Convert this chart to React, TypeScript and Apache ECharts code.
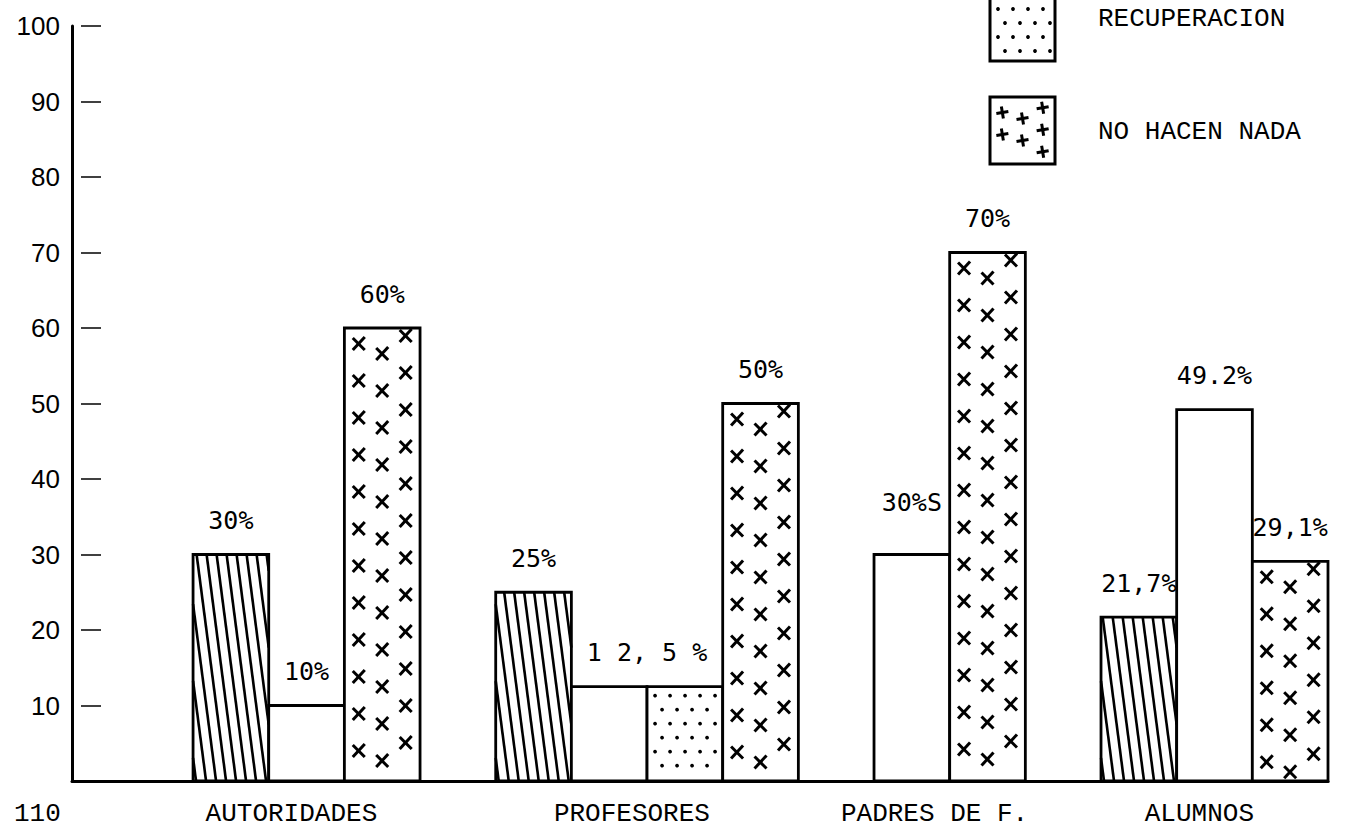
import React, { useEffect, useRef } from "react";
import * as echarts from "echarts";

// ---------- DATA ----------
const categories = ["AUTORIDADES", "PROFESORES", "PADRES DE F.", "ALUMNOS"];

// four series (patterns): hatched, blank, dotted (RECUPERACION), crosses (NO HACEN NADA)
const hatchedValues = [30, 25, null, 21.7];
const blankValues = [10, 12.5, 30, 49.2];
const recuperacionValues = [null, 12.5, null, null];
const noHacenNadaValues = [60, 50, 70, 29.1];

const hatchedLabels = ["30%", "25%", "", "21,7%"];
const blankLabels = ["10%", "1 2, 5 %", "30%S", "49.2%"];
const recuperacionLabels = ["", "", "", ""];
const noHacenNadaLabels = ["60%", "50%", "70%", "29,1%"];

const legendNames = ["RECUPERACION", "NO HACEN NADA"];
const pageNumber = "110";

const Y_MIN = 0;
const Y_MAX = 100;
const Y_STEP = 10;

// ---------- STYLE / LAYOUT ----------
type Pattern = "hatch" | "blank" | "dots" | "cross";
const seriesDefs: { values: (number | null)[]; labels: string[]; pattern: Pattern }[] = [
  { values: hatchedValues, labels: hatchedLabels, pattern: "hatch" },
  { values: blankValues, labels: blankLabels, pattern: "blank" },
  { values: recuperacionValues, labels: recuperacionLabels, pattern: "dots" },
  { values: noHacenNadaValues, labels: noHacenNadaLabels, pattern: "cross" },
];
// label nudges: key "seriesIndex-categoryIndex" -> [dx in bar widths, dy in px]
const labelNudge: Record<string, [number, number]> = {
  "1-1": [0.5, 0],
  "1-2": [0, -18],
};
const LEFT_GAP_SLOTS = 1.6;
const GROUP_GAP_SLOTS = 1;
const INK = "#000";
const SANS = "Liberation Sans";
const MONO = "Liberation Mono";
const LABEL_FONT = "DejaVu Sans Mono";

// build slot layout from data
const bars: number[][] = [];
const groupCenters: number[] = [];
let slotCursor = 0;
categories.forEach((_, ci) => {
  if (ci > 0) slotCursor += GROUP_GAP_SLOTS;
  const start = slotCursor;
  seriesDefs.forEach((s, si) => {
    const v = s.values[ci];
    if (v === null || v === undefined) return;
    bars.push([slotCursor, v, si, ci]);
    slotCursor += 1;
  });
  groupCenters.push((start + slotCursor) / 2);
});
const totalSlots = slotCursor;
const catLabelPos = groupCenters.map((c) => c - 0.2);

// ---------- pattern helpers ----------
function hatchLines(x: number, y: number, w: number, h: number) {
  const els: any[] = [];
  const s = 0.13;
  const step = 10;
  for (let c = x - s * h + 3; c < x + w; c += step) {
    const yMin = Math.max(y, y + (x - c) / s);
    const yMax = Math.min(y + h, y + (x + w - c) / s);
    if (yMax - yMin < 2) continue;
    els.push({
      type: "line",
      shape: { x1: c + s * (yMin - y), y1: yMin, x2: c + s * (yMax - y), y2: yMax },
      style: { stroke: INK, lineWidth: 2.6 },
    });
  }
  return els;
}

function dotMarks(x: number, y: number, w: number, h: number) {
  const els: any[] = [];
  let row = 0;
  for (let cy = y + 9; cy < y + h - 4; cy += 14, row++) {
    for (let cx = x + 8 + (row % 2) * 7; cx < x + w - 4; cx += 15) {
      els.push({ type: "circle", shape: { cx, cy, r: 1.9 }, style: { fill: INK } });
    }
  }
  return els;
}

function crossMarks(x: number, y: number, w: number, h: number, plus = false) {
  const els: any[] = [];
  const cols = [0.19, 0.5, 0.81];
  const phase = [16, 26, 8];
  const sp = plus ? 22 : 37;
  cols.forEach((fx, k) => {
    const cx = x + fx * w;
    for (let cy = y + (plus ? phase[k] * 0.6 + 6 : phase[k]); cy < y + h - 8; cy += sp) {
      const d = 6;
      if (plus) {
        els.push({ type: "line", shape: { x1: cx - d, y1: cy + 1, x2: cx + d, y2: cy - 1 }, style: { stroke: INK, lineWidth: 3 } });
        els.push({ type: "line", shape: { x1: cx - 1, y1: cy - d, x2: cx + 1, y2: cy + d }, style: { stroke: INK, lineWidth: 3 } });
      } else {
        els.push({ type: "line", shape: { x1: cx - d, y1: cy - d, x2: cx + d, y2: cy + d }, style: { stroke: INK, lineWidth: 3 } });
        els.push({ type: "line", shape: { x1: cx + d, y1: cy - d - 1, x2: cx - d, y2: cy + d }, style: { stroke: INK, lineWidth: 3 } });
      }
    }
  });
  return els;
}

function patternFor(p: Pattern, x: number, y: number, w: number, h: number, plus = false) {
  if (p === "hatch") return hatchLines(x, y, w, h);
  if (p === "dots") return dotMarks(x, y, w, h);
  if (p === "cross") return crossMarks(x, y, w, h, plus);
  return [];
}

function legendGraphic() {
  const boxX = 990;
  const boxW = 65;
  const boxH = 67;
  const items = [
    { name: legendNames[0], pattern: "dots" as Pattern, top: -6, textY: 19 },
    { name: legendNames[1], pattern: "cross" as Pattern, top: 97, textY: 132 },
  ];
  const children: any[] = [];
  items.forEach((it) => {
    children.push({ type: "rect", shape: { x: boxX, y: it.top, width: boxW, height: boxH }, style: { fill: "#fff" } });
    children.push(...patternFor(it.pattern, boxX, it.top + (it.top < 0 ? 6 : 0), boxW, boxH - (it.top < 0 ? 6 : 0), true));
    children.push({ type: "rect", shape: { x: boxX, y: it.top, width: boxW, height: boxH }, style: { fill: "none", stroke: INK, lineWidth: 3 } });
    children.push({
      type: "text",
      style: {
        text: it.name, x: 1098, y: it.textY, fill: INK, fontSize: 26, fontFamily: MONO,
        textAlign: "left", textVerticalAlign: "middle", align: "left", verticalAlign: "middle",
      },
    });
  });
  children.push({
    type: "text",
    style: {
      text: pageNumber, x: 14, y: 814, fill: INK, fontSize: 26, fontFamily: MONO,
      textAlign: "left", textVerticalAlign: "middle", align: "left", verticalAlign: "middle",
    },
  });
  return [{ type: "group", x: 0, y: 0, silent: true, children }];
}

export default function App() {
  const ref = useRef<HTMLDivElement>(null);
  useEffect(() => {
    if (!ref.current) return;
    const chart = echarts.init(ref.current, null, { renderer: "svg" });
    const option: any = {
      animation: false,
      backgroundColor: "#fff",
      grid: { left: 72, right: 31, top: 26, bottom: 51, containLabel: false, outerBoundsMode: "none" },
      xAxis: {
        type: "value",
        min: -LEFT_GAP_SLOTS,
        max: totalSlots,
        axisLine: { show: true, onZero: false, lineStyle: { color: INK, width: 3 } },
        axisTick: { show: false },
        splitLine: { show: false },
        axisLabel: {
          customValues: catLabelPos,
          formatter: (v: number) => {
            let best = 0;
            catLabelPos.forEach((p, i) => {
              if (Math.abs(p - v) < Math.abs(catLabelPos[best] - v)) best = i;
            });
            return categories[best];
          },
          color: INK,
          fontFamily: MONO,
          fontSize: 26,
          margin: 20,
        },
      },
      yAxis: [
        {
          type: "value",
          min: Y_MIN,
          max: Y_MAX,
          interval: Y_STEP,
          axisLine: { show: true, onZero: false, lineStyle: { color: INK, width: 3 } },
          axisTick: { show: false },
          splitLine: { show: false },
          axisLabel: {
            color: INK,
            fontFamily: SANS,
            fontSize: 26,
            margin: 12,
            formatter: (v: number) => (v === 0 ? "" : String(v)),
          },
        },
        {
          type: "value",
          min: Y_MIN,
          max: Y_MAX,
          interval: Y_STEP,
          position: "left",
          offset: -9,
          axisLine: { show: false, onZero: false },
          axisTick: { show: true, inside: true, length: 20, lineStyle: { color: INK, width: 1.5 } },
          axisLabel: { show: false },
          splitLine: { show: false },
        },
      ],
      series: [
        {
          type: "custom",
          silent: true,
          clip: false,
          xAxisIndex: 0,
          yAxisIndex: 0,
          encode: { x: 0, y: 1 },
          data: bars,
          renderItem: (params: any, api: any) => {
            const slot = api.value(0);
            const v = api.value(1);
            const si = api.value(2);
            const ci = api.value(3);
            const p0 = api.coord([slot, 0]);
            const p1 = api.coord([slot + 1, v]);
            const x = p0[0];
            const y = p1[1];
            const w = p1[0] - p0[0];
            const h = p0[1] - p1[1];
            const def = seriesDefs[si];
            const children: any[] = [
              { type: "rect", shape: { x, y, width: w, height: h }, style: { fill: "#fff" } },
              ...patternFor(def.pattern, x, y, w, h),
              { type: "rect", shape: { x, y, width: w, height: h }, style: { fill: "none", stroke: INK, lineWidth: 2.8 } },
            ];
            const label = def.labels[ci];
            if (label) {
              const nudge = labelNudge[`${si}-${ci}`] || [0, 0];
              children.push({
                type: "text",
                style: {
                  text: label,
                  x: x + w / 2 + nudge[0] * w,
                  y: y - 34 + nudge[1],
                  fill: INK,
                  fontSize: 25,
                  fontFamily: LABEL_FONT,
                  textAlign: "center",
                  textVerticalAlign: "middle",
                  align: "center",
                  verticalAlign: "middle",
                },
              });
            }
            return { type: "group", children };
          },
        },
      ],
      graphic: legendGraphic(),
    };
    chart.setOption(option);
    return () => chart.dispose();
  }, []);
  return <div ref={ref} style={{ position: "absolute", left: 0, top: 0, width: 1359, height: 832, background: "#fff" }} />;
}
